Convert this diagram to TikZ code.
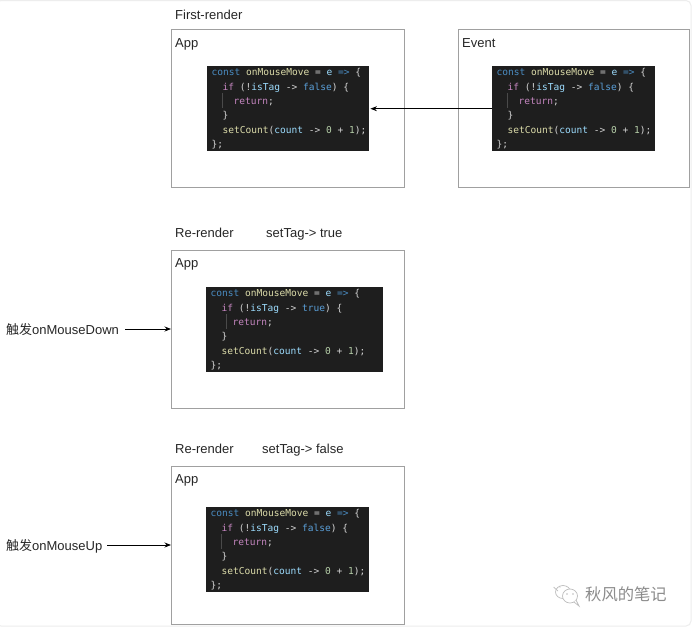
\documentclass[tikz,border=0pt]{standalone}
\usepackage{fontspec}
\setmainfont{Liberation Sans}
\setmonofont{DejaVu Sans Mono}
\newfontfamily\cjk{Noto Sans CJK SC}
\usetikzlibrary{arrows.meta}

% editor theme colours
\definecolor{kwblue}{HTML}{4A8CC2}
\definecolor{litblue}{HTML}{5A9FD8}
\definecolor{fnyellow}{HTML}{DCDCAA}
\definecolor{varblue}{HTML}{9CDCFE}
\definecolor{ctlpurple}{HTML}{C586C0}
\definecolor{numgreen}{HTML}{B5CEA8}
\definecolor{plain}{HTML}{D4D4D4}
\definecolor{editorbg}{HTML}{1E1E1E}
\definecolor{guide}{HTML}{4A4A4A}
\definecolor{framegray}{HTML}{A0A0A0}
\definecolor{markgray}{HTML}{BDBDBD}

% source listing; #1 is the literal and #2 its colour
\newcommand{\listing}[2]{%
  \spaceskip=0.602em\relax
  \textcolor{kwblue}{const} \textcolor{fnyellow}{onMouseMove} = \textcolor{varblue}{e} \textcolor{kwblue}{=>} \{\\
  \hspace*{11pt}\textcolor{ctlpurple}{if} (!\textcolor{varblue}{isTag} -> \textcolor{#2}{#1}) \{\\
  \hspace*{22pt}\textcolor{ctlpurple}{return};\\
  \hspace*{11pt}\}\\
  \mbox{\hspace*{11pt}\textcolor{fnyellow}{setCount}(\textcolor{varblue}{count} -> \textcolor{numgreen}{0} + \textcolor{numgreen}{1});}\\
  \};}

\tikzset{
  framebox/.style={draw=framegray, line width=0.8pt, fill=white, minimum width=#1, minimum height=158pt, inner sep=0pt},
  codepanel/.style={fill=editorbg, text=plain, anchor=north west, align=left,
    font=\ttfamily\fontsize{9.55}{14.3}\selectfont, inner xsep=4.5pt, inner ysep=0pt,
    text width=#1-9pt, minimum height=85pt},
  caption/.style={anchor=base west, inner sep=0pt, font=\fontsize{13}{15}\selectfont, text=black!85},
  flow/.style={-{Stealth[length=6.5pt,width=5pt]}, line width=0.8pt, black},
  guideline/.style={guide, line width=0.5pt},
  wechat/.style={draw=markgray, fill=white, line width=0.7pt}
}

\begin{document}
\begin{tikzpicture}[x=1pt,y=-1pt]
\useasboundingbox (0,0) rectangle (692,627);
\fill[white] (0,0) rectangle (692,627);
\draw[black!7, line width=1pt, rounded corners=5pt] (-4,0.5) rectangle (691,626);

% outer frames
\node[framebox=233pt, anchor=north west] (firstapp) at (171,29) {};
\node[framebox=231pt, anchor=north west] (eventbox) at (458,29) {};
\node[framebox=233pt, anchor=north west] (downapp) at (171,250) {};
\node[framebox=233pt, anchor=north west] (upapp) at (171,466) {};

% section captions
\node[caption] (firsttitle) at (175,19.5) {First-render};
\node[caption] (firstlabel) at (175,47) {App};
\node[caption] (eventlabel) at (462,47) {Event};
\node[caption] (downtitle) at (175,237.5) {Re-render};
\node[caption] (downstate) at (266,237.5) {setTag-> true};
\node[caption] (downlabel) at (175,267) {App};
\node[caption] (uptitle) at (175,453.5) {Re-render};
\node[caption] (upstate) at (262,453.5) {setTag-> false};
\node[caption] (uplabel) at (175,483) {App};

% code panels
\node[codepanel=162pt] (firstcode) at (207,66) {\listing{false}{litblue}};
\node[codepanel=163pt] (eventcode) at (492,66) {\listing{false}{litblue}};
\node[codepanel=177pt] (downcode) at (206,287) {\listing{true}{litblue}};
\node[codepanel=163pt] (upcode) at (206,507) {\listing{false}{litblue}};

% indent guides beside the early return
\draw[guideline] ([xshift=15.5pt,yshift=-27pt]firstcode.north west) -- ([xshift=15.5pt,yshift=-42pt]firstcode.north west);
\draw[guideline] ([xshift=15.5pt,yshift=-27pt]eventcode.north west) -- ([xshift=15.5pt,yshift=-42pt]eventcode.north west);
\draw[guideline] ([xshift=20.5pt,yshift=-27pt]downcode.north west) -- ([xshift=20.5pt,yshift=-42pt]downcode.north west);
\draw[guideline] ([xshift=15.5pt,yshift=-27pt]upcode.north west) -- ([xshift=15.5pt,yshift=-42pt]upcode.north west);

% triggers and connectors
\node[caption] (downtrigger) at (6,334) {{\cjk 触发}onMouseDown};
\node[caption] (uptrigger) at (6,550) {{\cjk 触发}onMouseUp};
\coordinate (downstart) at (125,329);
\coordinate (upstart) at (107,545);
\draw[flow] (eventcode.west) -- ([xshift=1pt]firstcode.east);
\draw[flow] (downstart) -- (downstart -| downapp.west);
\draw[flow] (upstart) -- (upstart -| upapp.west);

% account watermark
\draw[wechat] (563,592) ellipse [x radius=7.5pt, y radius=6.5pt];
\draw[wechat] (553.5,587) -- (558,591);
\draw[wechat] (570,596) ellipse [x radius=7.5pt, y radius=7pt];
\draw[wechat] (574,602) -- (579,606) -- (576,600);
\fill[markgray] (567,594) circle (0.8pt) (573,594) circle (0.8pt) (560,587) circle (0.7pt);
\node[anchor=west, inner sep=0pt, text=black!45, font=\cjk\fontsize{16.3}{18}\selectfont] (account) at (585,594) {秋风的笔记};
\end{tikzpicture}
\end{document}
